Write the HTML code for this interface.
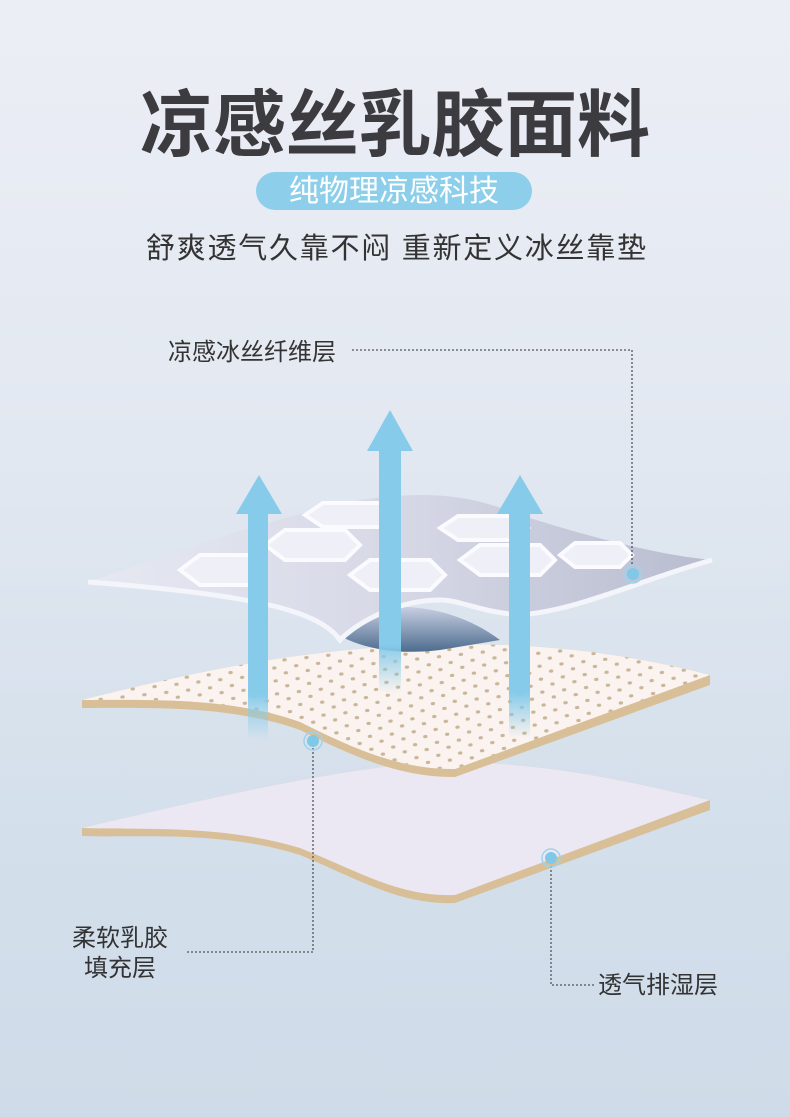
<!DOCTYPE html>
<html><head><meta charset="utf-8"><style>
html,body{margin:0;padding:0}
body{width:790px;height:1117px;overflow:hidden;background:linear-gradient(180deg,#eceef5 0%,#e2e8f1 40%,#d3dfeb 75%,#cfdbe8 100%);font-family:"Liberation Sans","Noto Sans CJK SC",sans-serif}
svg{display:block}
</style></head><body>
<svg width="790" height="1117" viewBox="0 0 790 1117" xmlns="http://www.w3.org/2000/svg">
<defs>
<linearGradient id="arr1" x1="0" y1="0" x2="0" y2="1"><stop offset="0" stop-color="#86cbea"/><stop offset="0.8" stop-color="#86cbea"/><stop offset="1" stop-color="#86cbea" stop-opacity="0"/></linearGradient>
<linearGradient id="under" x1="0" y1="0" x2="0" y2="1"><stop offset="0" stop-color="#c8cfe2"/><stop offset="1" stop-color="#4d6c8e"/></linearGradient>
<linearGradient id="topl" x1="0" y1="0" x2="1" y2="0"><stop offset="0" stop-color="#e6e8f2"/><stop offset="0.5" stop-color="#d6d8e6"/><stop offset="1" stop-color="#b8bccf"/></linearGradient>
<pattern id="dots" width="22" height="13" patternUnits="userSpaceOnUse" patternTransform="rotate(-6)"><ellipse cx="5" cy="4" rx="2.2" ry="1.6" fill="#bca682"/><ellipse cx="16" cy="10" rx="2.2" ry="1.6" fill="#bca682"/></pattern>
</defs>
<text x="395" y="150" text-anchor="middle" font-size="73" font-weight="bold" fill="#3c3b40" textLength="510" font-family="Liberation Sans,Noto Sans CJK SC,sans-serif">凉感丝乳胶面料</text>
<rect x="256" y="172" width="276" height="38" rx="19" fill="#8dcfea"/>
<text x="394" y="201" text-anchor="middle" font-size="30" fill="#fff">纯物理凉感科技</text>
<text x="396" y="258" text-anchor="middle" font-size="29" fill="#333" textLength="500">舒爽透气久靠不闷 重新定义冰丝靠垫</text>

<!-- bottom layer -->
<path d="M82,828 C200,800 330,770 430,762 C550,760 640,785 710,800 L710,810 L455,903 C400,905 360,880 300,855 C220,830 140,838 82,836 Z" fill="#d8bf97"/>
<path d="M82,828 C200,800 330,770 430,762 C550,760 640,785 710,800 L455,895 C400,897 360,872 300,848 C220,824 140,830 82,828 Z" fill="#ece8f3"/>
<!-- middle layer -->
<path d="M82,700 C200,670 300,650 420,645 C560,640 650,660 710,675 L710,685 L455,777 C400,778 350,755 300,730 C230,705 150,708 82,708 Z" fill="#d8bf97"/>
<path d="M82,700 C200,670 300,650 420,645 C560,640 650,660 710,675 L455,769 C400,770 350,747 300,722 C230,697 150,700 82,700 Z" fill="#fbf3ef"/>
<path d="M82,700 C200,670 300,650 420,645 C560,640 650,660 710,675 L455,769 C400,770 350,747 300,722 C230,697 150,700 82,700 Z" fill="url(#dots)" opacity="0.8"/>
<!-- top layer -->
<path d="M330,630 C360,600 440,595 500,640 L440,650 C400,655 360,650 330,630 Z" fill="url(#under)"/>
<path d="M88,582 C170,555 260,520 360,500 C430,490 470,495 520,515 C600,540 660,555 712,560 C640,580 580,610 520,615 C480,612 460,600 440,600 C400,600 360,620 340,640 C320,612 260,595 88,582 Z" fill="url(#topl)"/>
<path d="M88,582 C260,595 320,612 340,640 C360,620 400,600 440,600 C460,600 480,612 520,615 C580,610 640,580 712,560" fill="none" stroke="#f3f5fb" stroke-width="5"/>
<g fill="#eeeff7" stroke="#fbfbff" stroke-width="4">
<path d="M180,570 l20,-15 h50 l15,15 l-15,15 h-50 z"/>
<path d="M265,545 l20,-15 h60 l15,15 l-15,15 h-60 z"/>
<path d="M350,575 l20,-15 h60 l15,15 l-15,15 h-60 z"/>
<path d="M305,515 l18,-12 h60 l15,12 l-15,12 h-60 z"/>
<path d="M440,528 l18,-12 h55 l15,12 l-15,12 h-55 z"/>
<path d="M460,560 l20,-15 h60 l15,15 l-15,15 h-60 z"/>
<path d="M560,555 l15,-12 h45 l12,12 l-12,12 h-45 z"/>
</g>
<!-- arrows -->
<rect x="248" y="510" width="20" height="230" fill="url(#arr1)"/>
<polygon points="259,475 282,514 236,514" fill="#86cbea"/>
<rect x="379" y="448" width="22" height="245" fill="url(#arr1)"/>
<polygon points="390,410 413,451 367,451" fill="#86cbea"/>
<rect x="509" y="510" width="21" height="228" fill="url(#arr1)"/>
<polygon points="520,475 543,514 497,514" fill="#86cbea"/>
<!-- connectors -->
<g fill="none" stroke="#555" stroke-width="1.3" stroke-dasharray="2,2">
<path d="M352,350 H632 V566"/>
<path d="M313,748 V952 H186"/>
<path d="M551,866 V985 H595"/>
</g>
<g>
<circle cx="633" cy="574" r="9" fill="none" stroke="#9ed3ea" stroke-width="1.5"/><circle cx="633" cy="574" r="6" fill="#7fc8e8"/>
<circle cx="313" cy="741" r="9" fill="none" stroke="#9ed3ea" stroke-width="1.5"/><circle cx="313" cy="741" r="6" fill="#7fc8e8"/>
<circle cx="551" cy="858" r="9" fill="none" stroke="#9ed3ea" stroke-width="1.5"/><circle cx="551" cy="858" r="6" fill="#7fc8e8"/>
</g>
<g font-size="24" fill="#333">
<text x="168" y="360">凉感冰丝纤维层</text>
<text x="72" y="946">柔软乳胶</text>
<text x="84" y="976">填充层</text>
<text x="598" y="993">透气排湿层</text>
</g>
</svg>
</body></html>
